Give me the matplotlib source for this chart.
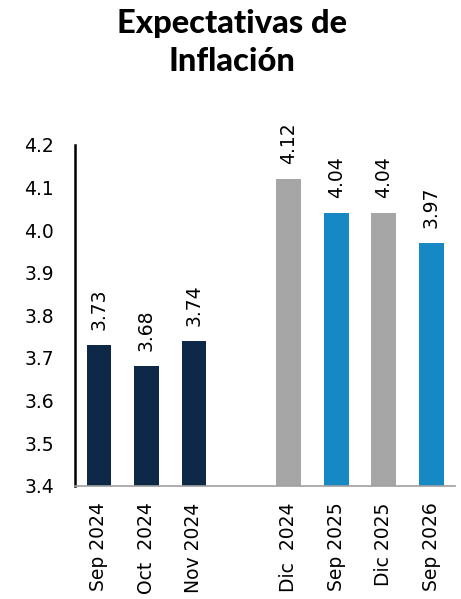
import matplotlib.pyplot as plt
import numpy as np

# data
categories = ["Sep 2024", "Oct  2024", "Nov 2024", "", "Dic  2024", "Sep 2025", "Dic 2025", "Sep 2026"]
values = [3.73, 3.68, 3.74, np.nan, 4.12, 4.04, 4.04, 3.97]
colors = ["#0E2948", "#0E2948", "#0E2948", "white", "#A6A6A6", "#1689C5", "#A6A6A6", "#1689C5"]
title_lines = ["Expectativas de", "Inflación"]

fig = plt.figure(figsize=(4.61, 5.99), dpi=100)
ax = fig.add_axes([0.163, 0.189, 0.824, 0.569])

x = np.arange(len(categories))
for i in range(len(categories)):
    if np.isnan(values[i]):
        continue
    ax.bar(x[i], values[i] - 3.4, bottom=3.4, width=0.52, color=colors[i])
    ax.annotate(f"{values[i]:.2f}", (x[i], values[i]), xytext=(0, 11),
                textcoords="offset points", rotation=90, ha="center", va="bottom",
                fontsize=13.5)

ax.set_ylim(3.4, 4.2)
ax.set_xlim(-0.5, 7.5)
ax.set_yticks(np.arange(3.4, 4.21, 0.1))
ax.set_yticklabels([f"{v:.1f}" for v in np.arange(3.4, 4.21, 0.1)], fontsize=13.5)
ax.set_xticks(x)
ax.set_xticklabels(categories, rotation=90, fontsize=13.5)
ax.tick_params(axis="both", length=0)
ax.tick_params(axis="y", pad=15)
ax.tick_params(axis="x", pad=12)

for s in ["top", "right"]:
    ax.spines[s].set_visible(False)
ax.spines["left"].set_color("black")
ax.spines["left"].set_linewidth(1.8)
ax.spines["bottom"].set_color("#A0A0A0")
ax.spines["bottom"].set_linewidth(1.2)

fig.text(0.503, 1 - 33 / 599, title_lines[0], ha="center", va="baseline",
         fontsize=23.5, family="Lato", fontweight=900)
fig.text(0.503, 1 - 71 / 599, title_lines[1], ha="center", va="baseline",
         fontsize=23.5, family="Lato", fontweight=900)

fig.savefig("out.png", dpi=100)
